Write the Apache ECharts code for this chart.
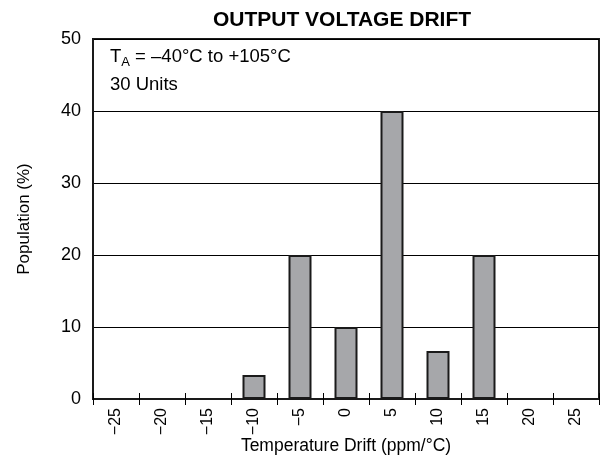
<!DOCTYPE html>
<html>
<head>
<meta charset="utf-8">
<script src="https://cdn.jsdelivr.net/npm/echarts@6/dist/echarts.min.js"></script>
<style>
  html, body { margin: 0; padding: 0; background: #fff; }
  #chart { width: 602px; height: 457px; }
</style>
</head>
<body>
<div id="chart"></div>
<script>
// drift bins (ppm/°C) and population share (%)
const categories = ["\u221225", "\u221220", "\u221215", "\u221210", "\u22125", "0", "5", "10", "15", "20", "25"];
const population = [0, 0, 0, 3.33, 20, 10, 40, 6.67, 20, 0, 0];
const yTicks = [0, 10, 20, 30, 40, 50];

const FONT = "'Liberation Sans', Arial, Helvetica, sans-serif";

const chart = echarts.init(document.getElementById("chart"), null, { renderer: "canvas" });

const option = {
  backgroundColor: "#fff",
  animation: false,
  title: {
    text: "OUTPUT VOLTAGE DRIFT",
    left: 337,
    top: 5,
    textAlign: "center",
    textStyle: { fontFamily: FONT, fontSize: 21, fontWeight: "bold", color: "#000" },
  },
  grid: {
    left: 93,
    right: 3,
    top: 39,
    bottom: 58,
    containLabel: false,
    outerBoundsMode: "none",
    show: true,
    borderColor: "#1a1a1a",
    borderWidth: 2,
    backgroundColor: "transparent",
  },
  xAxis: [
    {
      type: "category",
      data: categories,
      position: "bottom",
      name: "Temperature Drift (ppm/°C)",
      nameLocation: "middle",
      nameGap: 38,
      nameMoveOverlap: false,
      nameTextStyle: { fontFamily: FONT, fontSize: 17.5, color: "#000" },
      axisLine: { show: true, lineStyle: { color: "#1a1a1a", width: 2 } },
      axisTick: { show: true, length: 6, lineStyle: { color: "#000", width: 1 } },
      axisLabel: { rotate: 90, margin: 9, fontFamily: FONT, fontSize: 16, color: "#000" },
      splitLine: { show: false },
    },
    {
      // inner half of the crossing tick marks
      type: "category",
      data: categories,
      position: "bottom",
      axisLine: { show: false },
      axisTick: { show: true, inside: true, length: 6, lineStyle: { color: "#000", width: 1 } },
      axisLabel: { show: false },
      splitLine: { show: false },
    },
  ],
  yAxis: {
    type: "value",
    min: yTicks[0],
    max: yTicks[yTicks.length - 1],
    interval: 10,
    name: "Population (%)",
    nameLocation: "middle",
    nameGap: 60,
    nameMoveOverlap: false,
    nameTextStyle: { fontFamily: FONT, fontSize: 17, color: "#000" },
    axisLine: { show: true, lineStyle: { color: "#1a1a1a", width: 2 } },
    axisTick: { show: false },
    axisLabel: { margin: 12, fontFamily: FONT, fontSize: 18, color: "#000" },
    splitLine: { show: true, lineStyle: { color: "#000", width: 1 } },
  },
  graphic: [
    {
      type: "text",
      left: 110,
      top: 47,
      style: {
        text: "T{sub|A} = \u201340°C to +105°C",
        fontFamily: FONT,
        fontSize: 18.5,
        fill: "#000",
        rich: {
          sub: { fontFamily: FONT, fontSize: 13, fill: "#000", padding: [11, 0, 0, 0] },
        },
      },
    },
    {
      type: "text",
      left: 110,
      top: 75,
      style: { text: "30 Units", fontFamily: FONT, fontSize: 18.5, fill: "#000" },
    },
  ],
  series: [
    {
      type: "bar",
      xAxisIndex: 0,
      data: population,
      barWidth: "50%",
      itemStyle: { color: "#a6a7aa", borderColor: "#1a1a1a", borderWidth: 2 },
    },
  ],
};

chart.setOption(option);
</script>
</body>
</html>
